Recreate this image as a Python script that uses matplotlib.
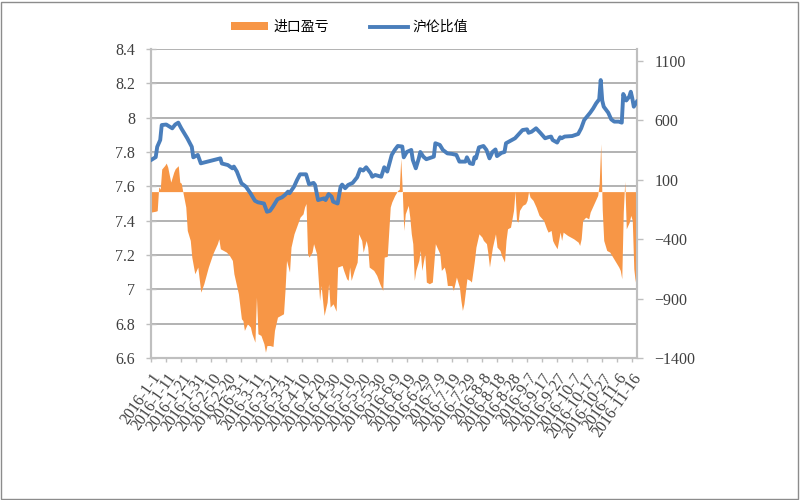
"""
Import profit/loss (area, right axis) vs SHFE/LME price ratio (line, left axis), 2016.
Values read off the reference picture, x as day offsets from 2016-01-01.
"""

import numpy as np
import pandas as pd
import matplotlib
matplotlib.use("Agg")
import matplotlib.pyplot as plt
from matplotlib.patches import Rectangle

START = pd.Timestamp("2016-01-01")

# SHFE/LME ratio (left axis)
ratio_day = [0, 3, 4, 6, 7, 10, 14, 16, 18, 20, 24, 27, 28, 31, 33, 46, 47, 51, 54, 55,
             57, 60, 63, 66, 69, 71, 75, 77, 79, 81, 84, 87, 89, 91, 92, 95, 97, 99, 103, 105,
             108, 109, 111, 115, 116, 118, 120, 121, 124, 126, 127, 129, 131, 134, 137, 139, 141, 143, 146, 147,
             149, 153, 155, 157, 160, 162, 164, 167, 168, 170, 173, 174, 176, 178, 179, 181, 183, 188, 189, 192,
             194, 197, 200, 203, 205, 209, 210, 212, 214, 215, 216, 218, 221, 223, 225, 227, 229, 230, 233, 235,
             236, 240, 242, 244, 247, 250, 251, 253, 256, 259, 262, 264, 266, 267, 270, 272, 273, 275, 280, 284,
             286, 288, 292, 294, 296, 298, 299, 300, 301, 304, 306, 308, 311, 313, 314, 316, 318, 319, 320, 321,
             323]
ratio = [7.754, 7.77, 7.83, 7.87, 7.957, 7.96, 7.938, 7.96, 7.971, 7.938, 7.88, 7.83, 7.769, 7.783, 7.734, 7.763, 7.733, 7.724, 7.705, 7.715,
         7.686, 7.618, 7.598, 7.56, 7.516, 7.507, 7.50, 7.452, 7.457, 7.482, 7.525, 7.536, 7.55, 7.569, 7.56, 7.598, 7.637, 7.67, 7.67, 7.612,
         7.62, 7.608, 7.52, 7.53, 7.52, 7.555, 7.54, 7.511, 7.50, 7.598, 7.61, 7.589, 7.608, 7.62, 7.653, 7.70, 7.692, 7.711, 7.676, 7.656,
         7.666, 7.656, 7.711, 7.686, 7.783, 7.812, 7.835, 7.832, 7.769, 7.80, 7.812, 7.754, 7.705, 7.763, 7.80, 7.773, 7.758, 7.773, 7.851, 7.841,
         7.812, 7.792, 7.789, 7.783, 7.744, 7.744, 7.769, 7.734, 7.73, 7.769, 7.763, 7.827, 7.835, 7.812, 7.763, 7.80, 7.815, 7.776, 7.795, 7.80,
         7.851, 7.87, 7.88, 7.899, 7.928, 7.932, 7.912, 7.918, 7.938, 7.91, 7.88, 7.886, 7.89, 7.87, 7.855, 7.886, 7.88, 7.89, 7.893, 7.905,
         7.938, 7.986, 8.029, 8.054, 8.084, 8.107, 8.219, 8.10, 8.064, 8.029, 7.99, 7.977, 7.977, 7.971, 8.138, 8.10, 8.123, 8.151, 8.113, 8.064,
         8.093]

# import profit / loss (right axis)
pl_day = [0, 3, 4, 5, 6, 7, 9, 10, 11, 13, 15, 16, 18, 19, 20, 21, 23, 24, 26, 27,
          29, 30, 31, 33, 35, 38, 41, 44, 45, 46, 48, 50, 52, 54, 55, 58, 60, 61, 62, 64,
          66, 67, 69, 70, 71, 73, 75, 76, 77, 79, 81, 82, 84, 86, 88, 89, 90, 92, 93, 95,
          97, 99, 101, 102, 103, 104, 105, 107, 108, 110, 112, 113, 115, 117, 118, 119, 121, 123, 124, 127,
          128, 130, 131, 132, 133, 135, 137, 138, 140, 141, 143, 144, 145, 148, 150, 152, 154, 155, 157, 159,
          160, 162, 164, 165, 166, 167, 168, 169, 171, 172, 173, 174, 175, 176, 178, 179, 180, 182, 183, 185,
          187, 189, 190, 192, 193, 195, 196, 197, 200, 201, 203, 205, 206, 207, 208, 210, 212, 213, 215, 216,
          218, 220, 221, 223, 224, 225, 227, 229, 230, 232, 233, 235, 236, 237, 239, 241, 242, 243, 244, 245,
          247, 249, 250, 251, 252, 254, 256, 258, 261, 263, 264, 266, 267, 268, 270, 272, 273, 274, 277, 281,
          284, 285, 286, 287, 289, 291, 292, 294, 295, 297, 298, 299, 300, 301, 303, 305, 307, 309, 311, 312,
          313, 314, 315, 316, 318, 319, 320, 321, 322, 323]
pl = [-172, -165, -160, 40, 20, 190, 220, 240, 206, 80, 164, 193, 218, 80, 70, 0, -130, -327, -411, -551,
      -691, -663, -635, -846, -775, -635, -523, -438, -397, -481, -495, -509, -537, -579, -691, -860, -1070, -1085, -1168, -1112,
      -1140, -1196, -1267, -888, -1196, -1210, -1281, -1351, -1295, -1295, -1303, -1168, -1056, -1042, -1028, -832, -579, -677, -467, -355,
      -285, -215, -187, -130, -100, -523, -551, -509, -438, -523, -916, -790, -1042, -930, -775, -972, -944, -1006, -635, -621,
      -663, -733, -747, -635, -747, -663, -593, -355, -411, -509, -411, -467, -635, -663, -705, -775, -832, -551, -545, -130,
      -88, -32, 10, 20, 280, 10, -327, -187, -116, -215, -355, -438, -747, -663, -579, -495, -663, -523, -761, -775,
      -761, -438, -467, -523, -663, -635, -691, -790, -790, -832, -719, -804, -916, -1000, -944, -733, -747, -761, -579, -467,
      -355, -383, -411, -438, -523, -635, -467, -355, -467, -495, -537, -593, -411, -313, -299, -158, 0, -243, -257, -158,
      -116, -102, -74, 0, -46, -74, -130, -200, -243, -313, -341, -327, -411, -438, -481, -341, -411, -341, -369, -397,
      -425, -453, -397, -243, -215, -229, -172, -116, -88, -32, 70, 403, -150, -411, -495, -509, -551, -593, -635, -663,
      -733, -172, 88, -313, -257, -200, -243, -650, -761, -523]

left_ticks = [6.6, 6.8, 7.0, 7.2, 7.4, 7.6, 7.8, 8.0, 8.2, 8.4]
right_ticks = [-1400, -900, -400, 100, 600, 1100]
x_ticks = pd.date_range("2016-01-01", "2016-11-16", freq="10D")

ORANGE = "#F79646"
BLUE = "#4A7EBB"
GRID = "#A6A6A6"
AXC = "#BFBFBF"
TXT = "#404040"
SERIF = "Liberation Serif"
CJK = ["Noto Sans CJK SC", "DejaVu Sans"]

r_dates = START + pd.to_timedelta(ratio_day, unit="D")
p_dates = START + pd.to_timedelta(pl_day, unit="D")

fig = plt.figure(figsize=(8, 5), dpi=100)
rect = [0.189, 0.284, 0.607, 0.618]

# bottom axes: left scale + gridlines
ax = fig.add_axes(rect)
# middle: the orange area on the right scale
ax2 = ax.twinx()
# top: the blue line, same scales as ax, drawn over the area
axl = fig.add_axes(rect, sharex=ax, sharey=ax)
axl.set_axis_off()
ax.set_zorder(0); ax2.set_zorder(1); axl.set_zorder(2)

ax2.fill_between(p_dates, pl, 0, color=ORANGE, lw=0, label="进口盈亏")
axl.plot(r_dates, ratio, color=BLUE, lw=2.8, solid_joinstyle="round", label="沪伦比值")

ax.set_xlim(START, START + pd.Timedelta(days=323))
ax.set_ylim(6.6, 8.4)
ax2.set_ylim(-1400, 1200)

ax.set_yticks(left_ticks)
ax.set_yticklabels([f"{v:g}" for v in left_ticks], family=SERIF, fontsize=11.5, color=TXT)
ax2.set_yticks(right_ticks)
ax2.set_yticklabels([str(v).replace("-", "\u2212") for v in right_ticks], family=SERIF, fontsize=11.5, color=TXT)
ax.set_xticks(x_ticks)
ax.set_xticklabels([f"{d.year}-{d.month}-{d.day}" for d in x_ticks], family=SERIF, fontsize=11.5,
                   color=TXT, rotation=55, ha="right", rotation_mode="anchor")

ax.yaxis.grid(True, color=GRID, lw=1.2)
ax.set_axisbelow(True)
ax.tick_params(axis="y", direction="inout", length=7, width=1, color=AXC, pad=8)
ax.tick_params(axis="x", direction="out", length=3, width=1, color=AXC, pad=6)
ax2.tick_params(axis="y", direction="out", length=4.5, width=1, color=AXC, pad=8)

for a in (ax, ax2):
    a.spines["top"].set_visible(False)
    for s in ("left", "right", "bottom"):
        a.spines[s].set_color(AXC)
        a.spines[s].set_linewidth(1.5)

# legend, top centre
h1, l1 = ax2.get_legend_handles_labels()
h2, l2 = axl.get_legend_handles_labels()
fig.legend(h1 + h2, l1 + l2, loc="center", bbox_to_anchor=(0.437, 0.946), ncol=2,
           frameon=False, prop={"family": CJK, "size": 10}, handlelength=2.7,
           handleheight=0.5, handletextpad=0.35, columnspacing=3.0)

# chart-area border
fig.patches.append(Rectangle((0.001, 0.002), 0.996, 0.995, transform=fig.transFigure,
                             fill=False, edgecolor="#8C8C8C", lw=1))

fig.savefig("out.png", dpi=100)
